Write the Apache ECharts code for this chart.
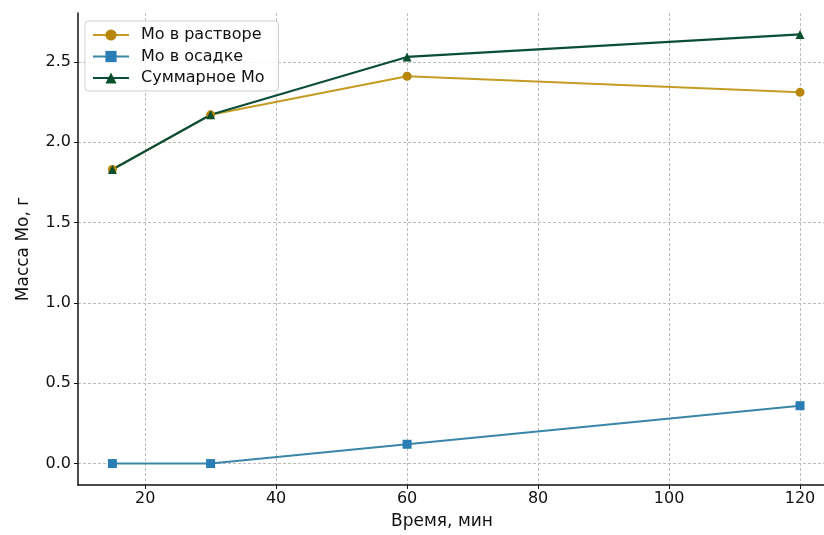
<!DOCTYPE html>
<html>
<head>
<meta charset="utf-8">
<script src="https://cdn.jsdelivr.net/npm/echarts@6/dist/echarts.min.js"></script>
<style>
html,body{margin:0;padding:0;background:#fff;}
#c{width:824px;height:535px;}
</style>
</head>
<body>
<div id="c"></div>
<script>
const times = [15, 30, 60, 120];
const moSolution = [1.83, 2.17, 2.41, 2.31];
const moPrecipitate = [0.0, 0.0, 0.12, 0.36];
const moTotal = [1.83, 2.17, 2.53, 2.67];
const seriesNames = ['Мо в растворе', 'Мо в осадке', 'Суммарное Мо'];
const xLabel = 'Время, мин';
const yLabel = 'Масса Мо, г';

const font = 'DejaVu Sans';
const pairs = arr => times.map((t, i) => [t, arr[i]]);

const chart = echarts.init(document.getElementById('c'), null, {renderer: 'canvas'});
chart.setOption({
  backgroundColor: '#fff',
  animation: false,
  textStyle: {fontFamily: font},
  grid: {left: 78, right: 0, top: 13, bottom: 44, containLabel: false},
  legend: {
    orient: 'vertical',
    left: 85, top: 21,
    padding: [6, 14, 5, 7],
    itemWidth: 36, itemHeight: 14, itemGap: 5.5,
    borderColor: '#d0d0d0', borderWidth: 1, borderRadius: 3,
    backgroundColor: 'rgba(255,255,255,0.85)',
    textStyle: {fontFamily: font, fontSize: 16, color: '#111', padding: [0, 0, 0, 7]},
    data: seriesNames
  },
  xAxis: {
    type: 'value',
    min: 9.75, max: 123.66,
    splitNumber: 5,
    name: xLabel,
    nameLocation: 'middle',
    nameGap: 28,
    nameTextStyle: {fontFamily: font, fontSize: 17, color: '#111', padding: [0, 18, 0, 0]},
    axisLine: {show: true, onZero: false, lineStyle: {color: '#111', width: 1.5}},
    axisTick: {show: true, inside: false, length: 4, lineStyle: {color: '#111', width: 1}},
    axisLabel: {fontFamily: font, fontSize: 16, color: '#111', margin: 6, showMinLabel: false, showMaxLabel: false},
    splitLine: {show: true, showMinLine: false, showMaxLine: false, lineStyle: {color: '#bcbcbc', type: [3, 2], width: 1}}
  },
  yAxis: {
    type: 'value',
    min: -0.1335, max: 2.8035,
    splitNumber: 5,
    name: yLabel,
    nameLocation: 'middle',
    nameGap: 46,
    nameRotate: 90,
    nameTextStyle: {fontFamily: font, fontSize: 17, color: '#111'},
    axisLine: {show: true, onZero: false, lineStyle: {color: '#111', width: 1.5}},
    axisTick: {show: true, inside: false, length: 4, lineStyle: {color: '#111', width: 1}},
    axisLabel: {fontFamily: font, fontSize: 16, color: '#111', margin: 7, showMinLabel: false, showMaxLabel: false,
      formatter: v => v.toFixed(1)},
    splitLine: {show: true, showMinLine: false, showMaxLine: false, lineStyle: {color: '#bcbcbc', type: [3, 2], width: 1}}
  },
  series: [
    {
      name: seriesNames[0], type: 'line', data: pairs(moSolution),
      symbol: 'circle', symbolSize: 9,
      lineStyle: {color: '#c49c24', width: 2},
      itemStyle: {color: '#b8860b'}
    },
    {
      name: seriesNames[1], type: 'line', data: pairs(moPrecipitate),
      symbol: 'rect', symbolSize: 9,
      lineStyle: {color: '#3a86a8', width: 2},
      itemStyle: {color: '#2a7db5'}
    },
    {
      name: seriesNames[2], type: 'line', data: pairs(moTotal),
      symbol: 'triangle', symbolSize: 9,
      lineStyle: {color: '#0b4d3b', width: 2.2},
      itemStyle: {color: '#0a4f2c'}
    }
  ]
});
</script>
</body>
</html>
